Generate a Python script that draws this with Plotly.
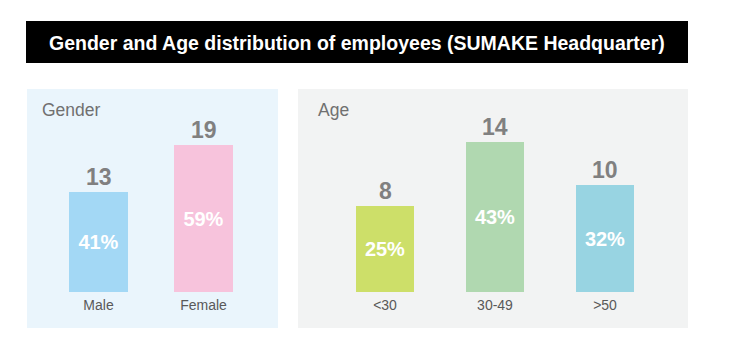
import plotly.graph_objects as go

# ---- data ----
gender_cats = ["Male", "Female"]
gender_counts = [13, 19]
gender_pct = ["41%", "59%"]
gender_colors = ["#A3D8F5", "#F7C3DC"]

age_cats = ["<30", "30-49", ">50"]
age_counts = [8, 14, 10]
age_pct = ["25%", "43%", "32%"]
age_colors = ["#CDDF69", "#B0D8B0", "#98D4E2"]

title_text = "Gender and Age distribution of employees (SUMAKE Headquarter)"

W, H = 729, 363
FONT = "Liberation Sans, Arial, sans-serif"

def px(x):
    return x / W

def py(y):
    return (H - y) / H

fig = go.Figure()

fig.add_trace(go.Bar(
    x=gender_cats, y=gender_counts, marker=dict(color=gender_colors, line=dict(width=0)),
    text=gender_pct, textposition="inside", insidetextanchor="middle",
    textfont=dict(color="white", size=20, family=FONT, weight="bold"),
    width=0.562, xaxis="x", yaxis="y", showlegend=False, hoverinfo="skip",
))
fig.add_trace(go.Bar(
    x=age_cats, y=age_counts, marker=dict(color=age_colors, line=dict(width=0)),
    text=age_pct, textposition="inside", insidetextanchor="middle",
    textfont=dict(color="white", size=20, family=FONT, weight="bold"),
    width=0.527, xaxis="x2", yaxis="y2", showlegend=False, hoverinfo="skip",
))

ybot = py(292)
ytop = py(100)
g_range = [0, 192 / 7.72]
a_range = [0, 192 / 10.71]

axis_common = dict(showgrid=False, zeroline=False, showline=False, fixedrange=True)
tickfont = dict(size=14, color="#595959", family=FONT)
fig.update_layout(
    width=W, height=H,
    margin=dict(l=0, r=0, t=0, b=0),
    paper_bgcolor="white", plot_bgcolor="rgba(0,0,0,0)",
    bargap=0,
    xaxis=dict(domain=[px(46), px(256)], range=[-0.5, 1.5], type="category",
               tickfont=tickfont, ticks="", ticklabelstandoff=3, anchor="y", **axis_common),
    yaxis=dict(domain=[ybot, ytop], range=g_range, showticklabels=False, anchor="x", **axis_common),
    xaxis2=dict(domain=[px(330), px(660)], range=[-0.5, 2.5], type="category",
                tickfont=tickfont, ticks="", ticklabelstandoff=3, anchor="y2", **axis_common),
    yaxis2=dict(domain=[ybot, ytop], range=a_range, showticklabels=False, anchor="x2", **axis_common),
    uniformtext=dict(minsize=8, mode="show"),
)

shapes = [
    dict(type="rect", xref="paper", yref="paper", x0=px(26), x1=px(688), y0=py(63), y1=py(21),
         fillcolor="black", line=dict(width=0), layer="below"),
    dict(type="rect", xref="paper", yref="paper", x0=px(27), x1=px(278), y0=py(328), y1=py(89),
         fillcolor="#EAF5FC", line=dict(width=0), layer="below"),
    dict(type="rect", xref="paper", yref="paper", x0=px(298), x1=px(688), y0=py(328), y1=py(89),
         fillcolor="#F2F3F3", line=dict(width=0), layer="below"),
]
fig.update_layout(shapes=shapes)

annotations = [
    dict(text=f"<b>{title_text}</b>", xref="paper", yref="paper", x=px(357), y=py(43),
         xanchor="center", yanchor="middle", showarrow=False,
         font=dict(color="white", size=19.5, family=FONT)),
    dict(text="Gender", xref="paper", yref="paper", x=px(40), y=py(110),
         xanchor="left", yanchor="middle", showarrow=False,
         font=dict(color="#707070", size=17.5, family=FONT)),
    dict(text="Age", xref="paper", yref="paper", x=px(316), y=py(110),
         xanchor="left", yanchor="middle", showarrow=False,
         font=dict(color="#707070", size=17.5, family=FONT)),
]
for c, v in zip(gender_cats, gender_counts):
    annotations.append(dict(text=f"<b>{v}</b>", x=c, y=v, xref="x", yref="y",
                            xanchor="center", yanchor="bottom", showarrow=False, yshift=0,
                            font=dict(color="#808080", size=23, family=FONT)))
for c, v in zip(age_cats, age_counts):
    annotations.append(dict(text=f"<b>{v}</b>", x=c, y=v, xref="x2", yref="y2",
                            xanchor="center", yanchor="bottom", showarrow=False, yshift=0,
                            font=dict(color="#808080", size=23, family=FONT)))
fig.update_layout(annotations=annotations)

fig.write_html("out.html", config={"displayModeBar": False},
               post_script="document.body.style.margin='0';document.body.style.padding='0';")
